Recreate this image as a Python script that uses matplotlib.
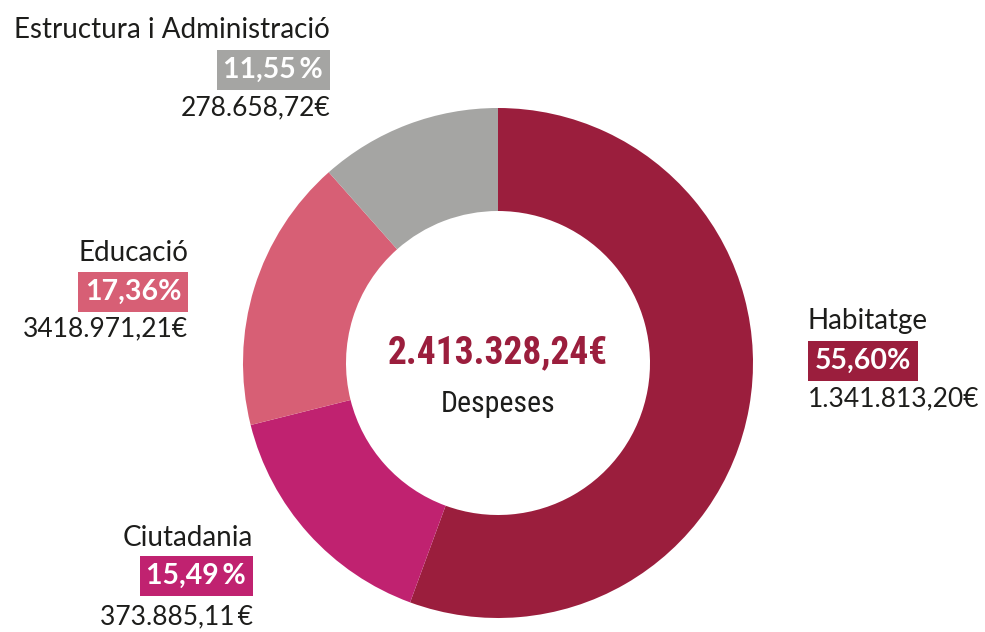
import matplotlib
matplotlib.use("Agg")
import matplotlib.pyplot as plt

# data
categories = ["Habitatge", "Ciutadania", "Educació", "Estructura i Administració"]
percents = [55.60, 15.49, 17.36, 11.55]
pct_labels = ["55,60%", "15,49\u2009%", "17,36%", "11,55\u2009%"]
amount_labels = ["1.341.813,20€", "373.885,11\u2009€", "3418.971,21€", "278.658,72€"]
colors = ["#9b1e3d", "#c02270", "#d75f75", "#a5a5a3"]
total_label = "2.413.328,24€"
center_label = "Despeses"

W, H = 985, 632
fig = plt.figure(figsize=(W / 100, H / 100), dpi=100)
ax = fig.add_axes([0, 0, 1, 1])

ax.pie(percents, colors=colors, startangle=90, counterclock=False,
       radius=255, center=(498, H - 363),
       wedgeprops=dict(width=103, linewidth=0))
ax.set_xlim(0, W)
ax.set_ylim(0, H)
ax.set_aspect("equal")
ax.axis("off")

lab_font = ["Lato", "DejaVu Sans"]
narrow = ["Roboto Condensed", "Open Sans Condensed", "Liberation Sans Narrow",
          "DejaVu Sans Condensed", "Roboto"]
dark = "#1d1d1b"

# label layout: (x, title baseline, box centre, amount baseline, ha)
layout = [
    (808, 329, 361, 406, "left"),
    (253, 546, 576, 624, "right"),
    (188, 261, 292, 336, "right"),
    (330, 38, 70, 115, "right"),
]

pad = 0.24
pct_size = 20.5
for i, (x, yt, yb, ya, ha) in enumerate(layout):
    ax.text(x, H - yt, categories[i], ha=ha, va="baseline", fontsize=20,
            family=lab_font, color=dark)
    off = pad * pct_size * 100 / 72
    bx = x + off if ha == "left" else x - off
    ax.text(bx, H - yb, pct_labels[i], ha=ha, va="center", fontsize=pct_size,
            family=lab_font, fontweight="bold", color="white",
            bbox=dict(boxstyle="square,pad=%.2f" % pad, fc=colors[i], ec="none"))
    ax.text(x, H - ya, amount_labels[i], ha=ha, va="baseline", fontsize=19,
            family=lab_font, color=dark)

ax.text(498, H - 363, total_label, ha="center", va="baseline", fontsize=27,
        family=narrow, fontweight="bold", color=colors[0])
ax.text(498, H - 412, center_label, ha="center", va="baseline", fontsize=21.5,
        family=narrow, color=dark)

fig.savefig("out.png", dpi=100)
